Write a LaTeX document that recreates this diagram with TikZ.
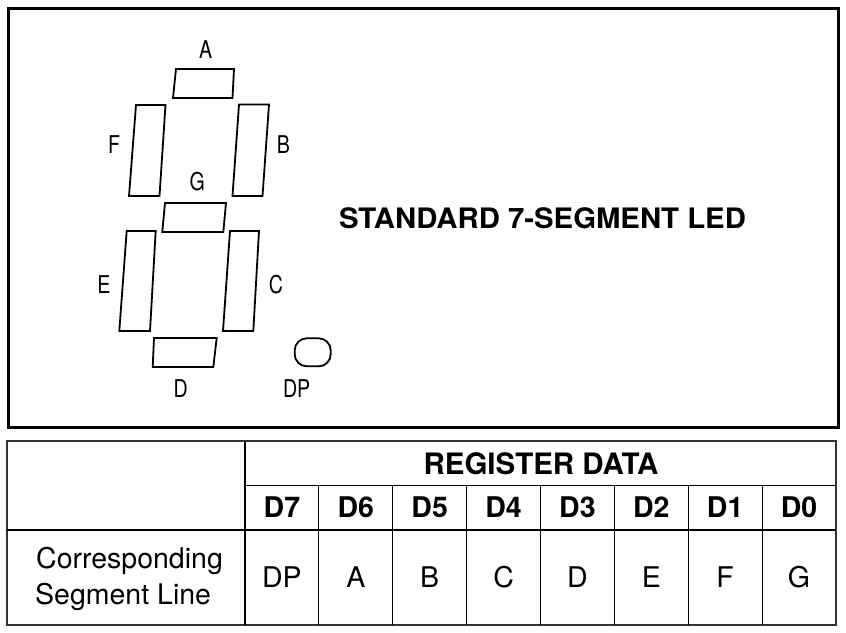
\documentclass[tikz,border=0pt]{standalone}
\usepackage{fontspec}
\setmainfont{TeX Gyre Heros}
\newfontfamily\segfont[FakeStretch=0.8]{TeX Gyre Heros}
\newfontfamily\wideheros[FakeStretch=1.04]{TeX Gyre Heros}

\tikzset{
  seg/.style={draw,line width=1.8pt,line join=miter},
  seglabel/.style={font=\segfont\fontsize{24.5}{26}\selectfont,inner sep=0pt},
  titletext/.style={font=\wideheros\bfseries\fontsize{28.2}{30}\selectfont,inner sep=0pt},
  head/.style={font=\bfseries\fontsize{28.5}{30}\selectfont,inner sep=0pt},
  cell/.style={font=\fontsize{28.5}{30}\selectfont,inner sep=0pt},
  tabline/.style={line width=1.1pt},
}

\begin{document}
\begin{tikzpicture}[x=1pt,y=-1pt]
  \useasboundingbox (0,0) rectangle (846,632);
  % display panel
  \draw[line width=2.6pt] (8.5,8.5) rectangle (838.5,427.5);

  % the seven segments and the point
  \draw[seg] (176,69) -- (234,69) -- (232.5,98) -- (173,98) -- cycle;         % A
  \draw[seg] (239,104.5) -- (269,104.5) -- (262.5,196) -- (232.5,196) -- cycle; % B
  \draw[seg] (230,231) -- (259,231) -- (253.3,331) -- (223,331) -- cycle;     % C
  \draw[seg] (154,338) -- (216.7,338) -- (213.3,367) -- (152.7,367) -- cycle; % D
  \draw[seg] (126.7,231) -- (155.7,231) -- (150,331) -- (119.3,331) -- cycle; % E
  \draw[seg] (136,105) -- (165.5,105) -- (159.5,196) -- (129,196) -- cycle;   % F
  \draw[seg] (165,203) -- (226,203) -- (223.3,232) -- (162.3,232) -- cycle;   % G
  \draw[seg,rounded corners=12pt] (294.7,338.3) rectangle (330.7,366.3);     % DP

  \node[seglabel] (labA) at (205.7,50) {A};
  \node[seglabel] (labB) at (283.3,145) {B};
  \node[seglabel] (labC) at (276,285) {C};
  \node[seglabel] (labD) at (180.7,388.3) {D};
  \node[seglabel] (labE) at (104,285) {E};
  \node[seglabel] (labF) at (114,145) {F};
  \node[seglabel] (labG) at (197.3,181.7) {G};
  \node[seglabel] (labDP) at (296.7,388.3) {DP};

  \node[titletext] (ttl) at (542.5,218) {STANDARD 7-SEGMENT LED};

  % register table
  \draw[line width=1.5pt,black!80] (7,441) rectangle (836,625);
  \draw[tabline] (245,441) -- (245,625);
  \draw[tabline] (245,485.7) -- (836,485.7);
  \draw[tabline] (7,530) -- (836,530);
  \foreach \i in {1,...,7}
    \draw[tabline] ({245+73.875*\i},485.7) -- ({245+73.875*\i},625);

  \node[head,font=\bfseries\fontsize{29.5}{30}\selectfont] (reg) at (541,463.5) {REGISTER DATA};
  \foreach \i/\d/\s in {0/7/DP,1/6/A,2/5/B,3/4/C,4/3/D,5/2/E,6/1/F,7/0/G} {
    \node[head] (d\d) at ({245+73.875*\i+36.94},507.5) {D\d};
    \node[cell] (s\d) at ({245+73.875*\i+36.94},577) {\s};
  }
  \node[cell,anchor=base west] (corr) at (36,568.5) {Corresponding};
  \node[cell,anchor=base west] (segln) at (35,604.5) {Segment Line};
\end{tikzpicture}
\end{document}
